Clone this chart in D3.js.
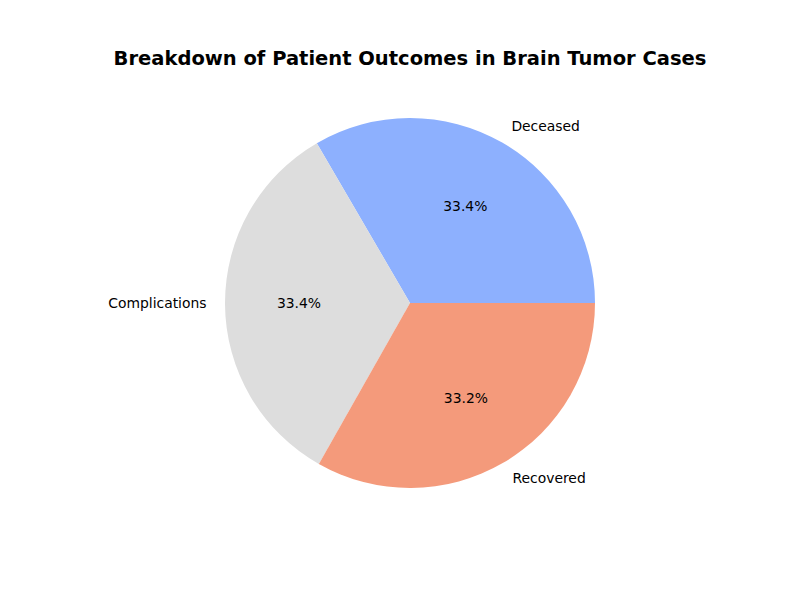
<!DOCTYPE html>
<html>
<head>
<meta charset="utf-8">
<script src="https://cdn.jsdelivr.net/npm/d3@7"></script>
<style>
  body { margin: 0; background: #fff; }
  text { font-family: "DejaVu Sans", sans-serif; }
</style>
</head>
<body>
<svg id="chart" width="800" height="600"></svg>
<script>
const categories = ["Deceased", "Complications", "Recovered"];
const values = [33.4, 33.4, 33.2];
const colors = ["#8db0fe", "#dddddd", "#f49a7b"];
const title = "Breakdown of Patient Outcomes in Brain Tumor Cases";

const svg = d3.select("#chart");
const cx = 410, cy = 303, r = 185;

svg.append("rect").attr("width", 800).attr("height", 600).attr("fill", "#fff");

svg.append("text")
  .attr("x", 410).attr("y", 58)
  .attr("text-anchor", "middle")
  .attr("dominant-baseline", "central")
  .attr("font-size", "19.5px")
  .attr("font-weight", "bold")
  .text(title);

const data = categories.map((c, i) => ({ name: c, value: values[i], color: colors[i] }));

// matplotlib: start at 3 o'clock, counterclockwise
const pie = d3.pie().value(d => d.value).sort(null)
  .startAngle(Math.PI / 2).endAngle(Math.PI / 2 - 2 * Math.PI);
const arcs = pie(data);
const arc = d3.arc().innerRadius(0).outerRadius(r);

const g = svg.append("g").attr("transform", `translate(${cx},${cy})`);
g.selectAll("path").data(arcs).enter().append("path")
  .attr("d", arc)
  .attr("fill", d => d.data.color);

const total = d3.sum(values);
arcs.forEach(a => {
  const mid = (a.startAngle + a.endAngle) / 2;
  const sx = Math.sin(mid), sy = -Math.cos(mid);
  g.append("text")
    .attr("x", 1.1 * r * sx).attr("y", 1.1 * r * sy - 0.8)
    .attr("text-anchor", sx > 0 ? "start" : "end")
    .attr("dominant-baseline", "central")
    .attr("font-size", "13.9px")
    .text(a.data.name);
  g.append("text")
    .attr("x", 0.6 * r * sx).attr("y", 0.6 * r * sy - 0.8)
    .attr("text-anchor", "middle")
    .attr("dominant-baseline", "central")
    .attr("font-size", "13.9px")
    .text((a.data.value / total * 100).toFixed(1) + "%");
});
</script>
</body>
</html>
